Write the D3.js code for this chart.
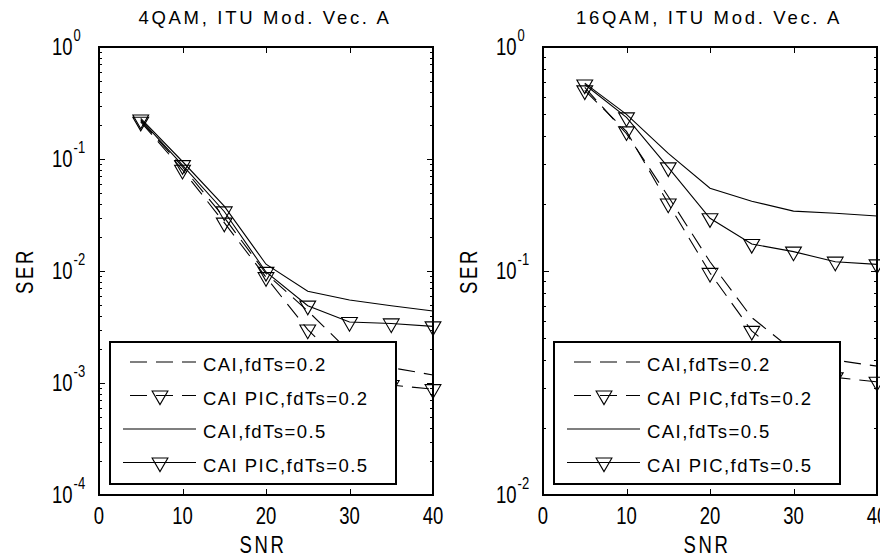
<!DOCTYPE html>
<html>
<head>
<meta charset="utf-8">
<script src="https://cdn.jsdelivr.net/npm/d3@7"></script>
<style>
  html, body { margin: 0; padding: 0; background: #fff; }
  svg { display: block; }
  text { font-family: "Liberation Sans", Arial, Helvetica, sans-serif; fill: #000; }
</style>
</head>
<body>
<svg id="chart" width="880" height="556"></svg>
<script>
// ---------------- data ----------------
const snr = [5, 10, 15, 20, 25, 30, 35, 40];
const xTicks = [0, 10, 20, 30, 40];
const titles = ["4QAM, ITU Mod. Vec. A", "16QAM, ITU Mod. Vec. A"];
const legendLabels = ["CAI,fdTs=0.2", "CAI PIC,fdTs=0.2", "CAI,fdTs=0.5", "CAI PIC,fdTs=0.5"];
const xLabel = "SNR";
const yLabel = "SER";

// 4QAM panel
const qam4_cai02 = [0.22, 0.085, 0.030, 0.0095, 0.0044, 0.0019, 0.00137, 0.00118];
const qam4_pic02 = [0.215, 0.080, 0.027, 0.0088, 0.0030, 0.0013, 0.00096, 0.00088];
const qam4_cai05 = [0.23, 0.095, 0.038, 0.0115, 0.0066, 0.0055, 0.0049, 0.0044];
const qam4_pic05 = [0.225, 0.088, 0.034, 0.0098, 0.0049, 0.0035, 0.0034, 0.0032];
const qam4_yTicks = [1e-4, 1e-3, 1e-2, 1e-1, 1];
const qam4_yExp = ["-4", "-3", "-2", "-1", "0"];

// 16QAM panel
const qam16_cai02 = [0.66, 0.41, 0.215, 0.11, 0.062, 0.044, 0.040, 0.0376];
const qam16_pic02 = [0.64, 0.42, 0.20, 0.098, 0.054, 0.038, 0.0335, 0.032];
const qam16_cai05 = [0.69, 0.50, 0.335, 0.234, 0.205, 0.185, 0.181, 0.176];
const qam16_pic05 = [0.68, 0.485, 0.29, 0.172, 0.132, 0.122, 0.110, 0.107];
const qam16_yTicks = [1e-2, 1e-1, 1];
const qam16_yExp = ["-2", "-1", "0"];

// ---------------- drawing ----------------
const FONT = 18.5;
const TALL = 1.25;        // vertical stretch of the tick / axis label font
const DASH = "17,9";

const styles = [
  { dashed: true,  marker: false },
  { dashed: true,  marker: true  },
  { dashed: false, marker: false },
  { dashed: false, marker: true  }
];

const panels = [
  { left: 99,  right: 433, top: 47, bottom: 495, yDomain: [1e-4, 1], title: titles[0],
    series: [qam4_cai02, qam4_pic02, qam4_cai05, qam4_pic05], yTicks: qam4_yTicks, yExp: qam4_yExp },
  { left: 543, right: 877, top: 47, bottom: 495, yDomain: [1e-2, 1], title: titles[1],
    series: [qam16_cai02, qam16_pic02, qam16_cai05, qam16_pic05], yTicks: qam16_yTicks, yExp: qam16_yExp }
];

const svg = d3.select("#chart");
const tri = d3.symbol().type(d3.symbolTriangle).size(108);

panels.forEach(p => {
  const x = d3.scaleLinear().domain([0, 40]).range([p.left, p.right]);
  const y = d3.scaleLog().domain(p.yDomain).range([p.bottom, p.top]);
  const g = svg.append("g");

  // minor log ticks
  const minors = [];
  const d0 = Math.round(Math.log10(p.yDomain[0])), d1 = Math.round(Math.log10(p.yDomain[1]));
  for (let k = d0; k < d1; k++) for (let m = 2; m <= 9; m++) minors.push(m * Math.pow(10, k));

  const axG = g.append("g").attr("class", "axes");
  axG.append("g").attr("transform", `translate(${p.left},0)`)
    .call(d3.axisLeft(y).tickValues(minors).tickSize(-3).tickFormat(""));
  axG.append("g").attr("transform", `translate(${p.right},0)`)
    .call(d3.axisRight(y).tickValues(minors).tickSize(-3).tickFormat(""));
  axG.append("g").attr("transform", `translate(${p.left},0)`)
    .call(d3.axisLeft(y).tickValues(p.yTicks).tickSize(-6).tickFormat(""));
  axG.append("g").attr("transform", `translate(${p.right},0)`)
    .call(d3.axisRight(y).tickValues(p.yTicks).tickSize(-6).tickFormat(""));
  axG.append("g").attr("transform", `translate(0,${p.bottom})`)
    .call(d3.axisBottom(x).tickValues(xTicks).tickSize(-6).tickFormat(""));
  axG.append("g").attr("transform", `translate(0,${p.top})`)
    .call(d3.axisTop(x).tickValues(xTicks).tickSize(-6).tickFormat(""));
  axG.selectAll(".domain").remove();
  axG.selectAll(".tick line").attr("stroke", "#000").attr("stroke-width", 1)
    .attr("shape-rendering", "crispEdges");

  // series lines
  const line = d3.line().x((d, i) => x(snr[i])).y(d => y(d));
  p.series.forEach((vals, si) => {
    g.append("path").datum(vals)
      .attr("d", line)
      .attr("fill", "none")
      .attr("stroke", "#000")
      .attr("stroke-width", 1.1)
      .attr("stroke-dasharray", styles[si].dashed ? DASH : null);
  });
  // markers
  p.series.forEach((vals, si) => {
    if (!styles[si].marker) return;
    g.selectAll(null).data(vals).enter().append("path")
      .attr("d", tri)
      .attr("transform", (d, i) => `translate(${x(snr[i])},${y(d)}) rotate(180)`)
      .attr("fill", "none").attr("stroke", "#000").attr("stroke-width", 1.1);
  });

  // frame
  g.append("rect")
    .attr("x", p.left).attr("y", p.top)
    .attr("width", p.right - p.left).attr("height", p.bottom - p.top)
    .attr("fill", "none").attr("stroke", "#000").attr("stroke-width", 1.2)
    .attr("shape-rendering", "crispEdges");

  // x tick labels
  g.selectAll(null).data(xTicks).enter().append("text")
    .attr("transform", d => `translate(${x(d)},${p.bottom + 28.5}) scale(1,${TALL})`)
    .attr("text-anchor", "middle")
    .style("font-size", FONT + "px")
    .text(d => d);

  // y tick labels  10^k
  p.yTicks.forEach((v, i) => {
    const t = g.append("text")
      .attr("transform", `translate(${p.left - 47},${y(v)}) scale(1,${TALL})`)
      .attr("y", 6.7)
      .style("font-size", FONT + "px");
    t.append("tspan").text("10");
    t.append("tspan").attr("dx", 1).attr("dy", -11.5).style("font-size", "13px").text(p.yExp[i]);
  });

  // axis labels
  const cx = (p.left + p.right) / 2;
  g.append("text")
    .attr("transform", `translate(${cx - 3},${553}) scale(1,${TALL})`)
    .attr("text-anchor", "middle")
    .style("font-size", FONT + "px").style("letter-spacing", "2.7px")
    .text(xLabel);
  g.append("text")
    .attr("transform", `translate(${p.left - 66},${(p.top + p.bottom) / 2}) rotate(-90) scale(1,${TALL})`)
    .attr("text-anchor", "middle")
    .style("font-size", FONT + "px").style("letter-spacing", "2.7px")
    .text(yLabel);

  // title
  g.append("text")
    .attr("x", cx - 1).attr("y", 23.5)
    .attr("text-anchor", "middle")
    .style("font-size", FONT + "px").style("letter-spacing", "2.7px")
    .text(p.title);

  // legend
  const lx = p.left + 11, ly = 342, lw = 286, lh = 142;
  const lg = g.append("g");
  lg.append("rect").attr("x", lx).attr("y", ly).attr("width", lw).attr("height", lh)
    .attr("fill", "#fff").attr("stroke", "#000").attr("stroke-width", 1.2)
    .attr("shape-rendering", "crispEdges");
  legendLabels.forEach((lab, i) => {
    const ry = 362 + i * 33.5;
    const s = styles[i];
    lg.append("line")
      .attr("x1", p.left + 24).attr("x2", p.left + 97)
      .attr("y1", ry).attr("y2", ry)
      .attr("stroke", "#000").attr("stroke-width", 1.1)
      .attr("stroke-dasharray", s.dashed ? DASH : null)
      .attr("stroke-dashoffset", s.dashed ? 19 : null);
    if (s.marker) {
      lg.append("path").attr("d", tri)
        .attr("transform", `translate(${p.left + 61},${ry}) rotate(180)`)
        .attr("fill", "none").attr("stroke", "#000").attr("stroke-width", 1.1);
    }
    lg.append("text")
      .attr("x", p.left + 104).attr("y", ry + 9)
      .style("font-size", FONT + "px").style("letter-spacing", "1.45px")
      .text(lab);
  });
});
</script>
</body>
</html>
